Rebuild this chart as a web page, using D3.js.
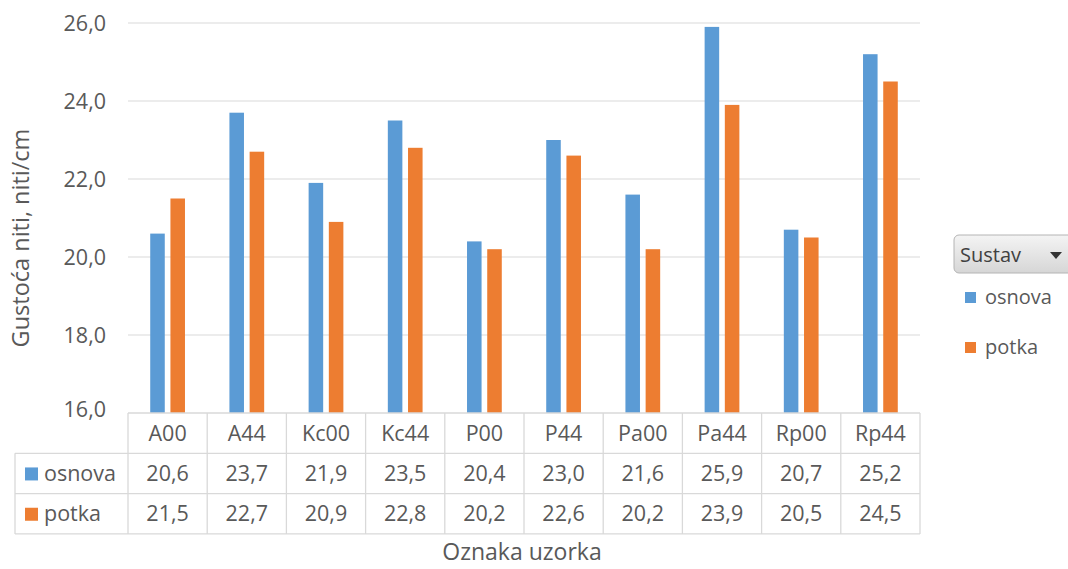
<!DOCTYPE html>
<html lang="en">
<head>
	<meta charset="UTF-8">
	<title>Gustoća niti</title>
	<style>
		html, body {
			margin: 0;
			background: #fff;
			font-family: 'Open Sans', 'Liberation Sans', sans-serif;
		}
		svg text {
			fill: #595959;
		}
	</style>
	<script src="https://cdn.jsdelivr.net/npm/d3@7/dist/d3.min.js"></script>
</head>
<body>
	<svg id="container"></svg>
	<script>
		// chart data
		const categories = ['A00', 'A44', 'Kc00', 'Kc44', 'P00', 'P44', 'Pa00', 'Pa44', 'Rp00', 'Rp44'];
		const seriesNames = ['osnova', 'potka'];
		const osnova = [20.6, 23.7, 21.9, 23.5, 20.4, 23.0, 21.6, 25.9, 20.7, 25.2];
		const potka = [21.5, 22.7, 20.9, 22.8, 20.2, 22.6, 20.2, 23.9, 20.5, 24.5];
		const yTicks = [16, 18, 20, 22, 24, 26];
		const colors = ['#5B9BD5', '#ED7D31'];

		const config = {
			width: 1068,
			height: 569,
			plot: { left: 128, right: 920, top: 23, bottom: 413 },
			rowH: 40.3,
			tableLeft: 15,
			fontSize: 21.5,
		};

		const svg = d3.select('#container')
			.attr('width', config.width)
			.attr('height', config.height);

		const fmt = v => v.toFixed(1).replace('.', ',');

		const x = d3.scaleBand()
			.domain(categories)
			.range([config.plot.left, config.plot.right]);
		const xInner = d3.scaleBand()
			.domain(seriesNames)
			.range([0, x.bandwidth()])
			.paddingInner(0.28)
			.paddingOuter(1.1);
		const y = d3.scaleLinear()
			.domain([16, 26])
			.range([config.plot.bottom, config.plot.top]);

		// gridlines
		svg.append('g')
			.selectAll('line')
			.data(yTicks.slice(1))
			.join('line')
			.attr('x1', config.plot.left)
			.attr('x2', config.plot.right)
			.attr('y1', d => y(d))
			.attr('y2', d => y(d))
			.attr('stroke', '#d9d9d9')
			.attr('stroke-width', 1);

		// y tick labels
		svg.append('g')
			.selectAll('text')
			.data(yTicks)
			.join('text')
			.attr('x', 106)
			.attr('y', d => y(d))
			.attr('dy', d => d === 16 ? '0.2em' : '0.35em')
			.attr('text-anchor', 'end')
			.attr('font-size', config.fontSize)
			.text(fmt);

		// bars
		const seriesData = [osnova, potka];
		const groups = svg.append('g')
			.selectAll('g')
			.data(seriesData)
			.join('g')
			.attr('fill', (d, i) => colors[i]);
		groups.selectAll('rect')
			.data((vals, si) => vals.map((v, ci) => ({ v, cat: categories[ci], s: seriesNames[si] })))
			.join('rect')
			.attr('x', d => x(d.cat) + xInner(d.s))
			.attr('width', xInner.bandwidth())
			.attr('y', d => y(d.v))
			.attr('height', d => y(16) - y(d.v));

		// data table
		const table = svg.append('g').attr('stroke', '#d9d9d9').attr('stroke-width', 1.3).attr('fill', 'none');
		const tTop = config.plot.bottom;
		const rows = 3;
		const tBottom = tTop + rows * config.rowH;
		// horizontal lines
		table.append('line')
			.attr('x1', config.plot.left).attr('x2', config.plot.right)
			.attr('y1', tTop).attr('y2', tTop);
		[1, 2, 3].forEach(r => {
			table.append('line')
				.attr('x1', config.tableLeft).attr('x2', config.plot.right)
				.attr('y1', tTop + r * config.rowH).attr('y2', tTop + r * config.rowH);
		});
		// vertical lines
		table.append('line')
			.attr('x1', config.tableLeft).attr('x2', config.tableLeft)
			.attr('y1', tTop + config.rowH).attr('y2', tBottom);
		table.selectAll('line.v')
			.data(categories.concat(['end']))
			.join('line')
			.attr('class', 'v')
			.attr('x1', d => d === 'end' ? config.plot.right : x(d))
			.attr('x2', d => d === 'end' ? config.plot.right : x(d))
			.attr('y1', tTop).attr('y2', tBottom);

		// category labels
		svg.append('g')
			.selectAll('text')
			.data(categories)
			.join('text')
			.attr('x', d => x(d) + x.bandwidth() / 2)
			.attr('y', tTop + config.rowH / 2)
			.attr('dy', '0.35em')
			.attr('text-anchor', 'middle')
			.attr('font-size', config.fontSize)
			.text(d => d);

		// values rows
		seriesData.forEach((vals, si) => {
			const rowY = tTop + (si + 1.5) * config.rowH;
			svg.append('g')
				.selectAll('text')
				.data(vals)
				.join('text')
				.attr('x', (d, i) => x(categories[i]) + x.bandwidth() / 2)
				.attr('y', rowY)
				.attr('dy', '0.35em')
				.attr('text-anchor', 'middle')
				.attr('font-size', config.fontSize)
				.text(fmt);
			svg.append('rect')
				.attr('x', 25).attr('y', rowY - 6)
				.attr('width', 13).attr('height', 13)
				.attr('fill', colors[si]);
			svg.append('text')
				.attr('x', 44).attr('y', rowY)
				.attr('dy', '0.35em')
				.attr('font-size', config.fontSize)
				.text(seriesNames[si]);
		});

		// axis titles
		svg.append('text')
			.attr('transform', `translate(29, ${(config.plot.top + config.plot.bottom) / 2 + 20}) rotate(-90)`)
			.attr('text-anchor', 'middle')
			.attr('font-size', 23.5)
			.text('Gustoća niti, niti/cm');
		svg.append('text')
			.attr('x', 522)
			.attr('y', 552)
			.attr('dy', '0.35em')
			.attr('text-anchor', 'middle')
			.attr('font-size', 23)
			.text('Oznaka uzorka');

		// legend with filter button
		const defs = svg.append('defs');
		const grad = defs.append('linearGradient').attr('id', 'btn').attr('x1', 0).attr('x2', 0).attr('y1', 0).attr('y2', 1);
		grad.append('stop').attr('offset', '0%').attr('stop-color', '#f4f4f4');
		grad.append('stop').attr('offset', '100%').attr('stop-color', '#d6d6d6');
		svg.append('rect')
			.attr('x', 954).attr('y', 235)
			.attr('width', 125).attr('height', 38)
			.attr('rx', 5)
			.attr('fill', 'url(#btn)')
			.attr('stroke', '#b4b4b4');
		svg.append('text')
			.attr('x', 960).attr('y', 255)
			.attr('dy', '0.35em')
			.attr('font-size', 20)
			.style('fill', '#404040')
			.text('Sustav');
		svg.append('path')
			.attr('d', 'M1050,252 L1062,252 L1056,259 Z')
			.attr('fill', '#333');
		const legend = svg.append('g')
			.selectAll('g')
			.data(seriesNames)
			.join('g')
			.attr('transform', (d, i) => `translate(965, ${297 + i * 50})`);
		legend.append('rect')
			.attr('x', 0).attr('y', -5)
			.attr('width', 11).attr('height', 11)
			.attr('fill', (d, i) => colors[i]);
		legend.append('text')
			.attr('x', 20).attr('y', 0)
			.attr('dy', '0.35em')
			.attr('font-size', 20)
			.text(d => d);
	</script>
</body>
</html>
